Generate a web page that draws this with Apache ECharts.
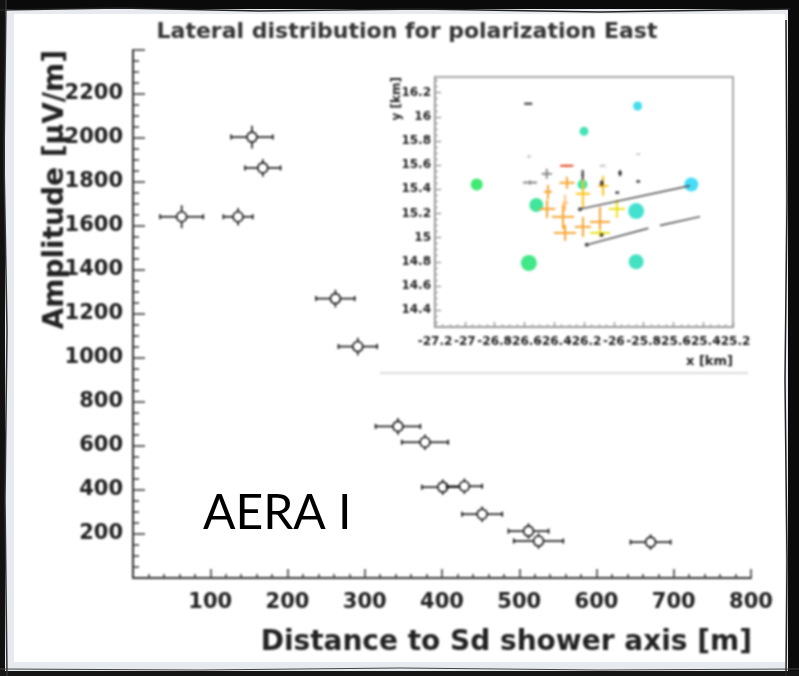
<!DOCTYPE html>
<html>
<head>
<meta charset="utf-8">
<script src="https://cdn.jsdelivr.net/npm/echarts@6/dist/echarts.min.js"></script>
<style>
  html, body { margin: 0; padding: 0; background: #fff; }
  #wrap { position: relative; width: 799px; height: 676px; overflow: hidden; }
  #plot, #frame { position: absolute; left: 0; top: 0; width: 799px; height: 676px; }
  #plot { filter: blur(1.2px); }
</style>
</head>
<body>
<div id="wrap"><div id="plot"></div><div id="frame"></div></div>
<script>
// ---- Lateral distribution (main panel) ----
const distance     = [63, 136, 154, 168, 262, 291, 343, 378, 401, 429, 452, 512, 525, 670];
const amplitude    = [1642, 1642, 2004, 1864, 1270, 1052, 689, 617, 413, 417, 290, 213, 168, 163];
const distanceErr  = [28, 19, 27, 23, 25, 25, 29, 30, 27, 23, 26, 26, 32, 26];
const amplitudeErr = [52, 40, 52, 40, 40, 40, 38, 35, 35, 35, 35, 35, 35, 35];

// ---- Array footprint (inset panel), coordinates in km ----
const stationX      = [-26.92, -26.52, -26.57, -26.20, -26.21, -25.84, -25.85, -25.85, -25.48];
const stationY      = [15.44, 15.27, 14.79, 15.88, 15.44, 16.09, 15.22, 14.80, 15.44];
const stationSignal = [12, 14, 16, 9, 10, 9, 16, 15, 14];
const stationTime   = [0.0, 0.3, 0.15, 0.5, 0.4, 0.9, 0.7, 0.6, 1.0];

// SD detector crosses: position, extent and kind
const markX    = [-26.314, -26.442, -26.448, -26.327, -26.341, -26.327, -26.207, -26.207, -26.072, -26.093, -26.093, -25.979,
                  -26.574, -26.569, -26.450, -26.562, -26.209, -26.075, -25.958, -25.836, -25.836, -25.977, -26.081, -26.316];
const markY    = [15.454, 15.379, 15.238, 15.288, 15.172, 15.039, 15.363, 15.089, 15.429, 15.130, 15.039, 15.238,
                  16.109, 15.672, 15.528, 15.456, 15.520, 15.595, 15.534, 15.692, 15.465, 15.373, 15.451, 15.595];
const markErrX = [0.050, 0.027, 0.054, 0.020, 0.074, 0.074, 0.047, 0.054, 0.034, 0.067, 0.067, 0.054,
                  0.027, 0.013, 0.034, 0.047, 0.007, 0.020, 0.013, 0.013, 0.013, 0.013, 0.013, 0.044];
const markErrY = [0.050, 0.058, 0.075, 0.066, 0.100, 0.066, 0.120, 0.083, 0.083, 0.124, 0.033, 0.075,
                  0.004, 0.008, 0.041, 0.017, 0.040, 0.008, 0.025, 0.008, 0.008, 0.008, 0.025, 0.008];
const markKind = [0, 0, 0, 1, 0, 0, 2, 0, 2, 0, 3, 3,
                  5, 6, 4, 4, 5, 6, 5, 6, 5, 5, 5, 7];

// Shower axis projections (segments) and their anchor dots
const segX1 = [-26.227, -26.182, -25.690];
const segY1 = [15.236, 14.940, 15.100];
const segX2 = [-25.489, -25.768, -25.421];
const segY2 = [15.429, 15.078, 15.174];
const dotX  = [-26.227, -26.182, -26.081];
const dotY  = [15.236, 14.940, 15.022];

const insetXTicks = [-27.2, -27.0, -26.8, -26.6, -26.4, -26.2, -26.0, -25.8, -25.6, -25.4, -25.2];
const insetYTicks = [14.4, 14.6, 14.8, 15.0, 15.2, 15.4, 15.6, 15.8, 16.0, 16.2];

// ---- styling helpers ----
const kindColors = ['#f7a531', '#ffc27a', '#ffc21a', '#ece21c', '#8a8a8a', '#333333', '#c8c8c8', '#e8461e'];
function timeColor(t) {
  const a = [16, 228, 80], b = [24, 212, 246];
  const c = a.map((v, i) => Math.round(v + (b[i] - v) * t));
  return 'rgb(' + c.join(',') + ')';
}
const labelFont = { fontFamily: 'DejaVu Sans', fontWeight: 'bold', color: '#222' };
const plain = v => String(+(+v).toFixed(1));

const mainData = distance.map((d, i) => [d, amplitude[i], distanceErr[i], amplitudeErr[i]]);
const markData = markX.map((x, i) => [x, markY[i], markErrX[i], markErrY[i], markKind[i]]);
const segData = segX1.map((x, i) => [x, segY1[i], segX2[i], segY2[i]]);
const stationData = stationX.map((x, i) => ({
  value: [x, stationY[i]],
  symbolSize: stationSignal[i],
  itemStyle: { color: timeColor(stationTime[i]) }
}));
const insetMinor = [];
for (let v = 14.3; v < 16.33; v += 0.05) insetMinor.push(+v.toFixed(2));

function renderErrorPoint(params, api) {
  const x = api.value(0), y = api.value(1), ex = api.value(2), ey = api.value(3);
  const c = api.coord([x, y]);
  const l = api.coord([x - ex, y]), r = api.coord([x + ex, y]);
  const t = api.coord([x, y + ey]), b = api.coord([x, y - ey]);
  const rad = 5;
  const st = { stroke: '#111', lineWidth: 1.6 };
  return {
    type: 'group',
    children: [
      { type: 'line', shape: { x1: l[0], y1: c[1], x2: c[0] - rad, y2: c[1] }, style: st },
      { type: 'line', shape: { x1: c[0] + rad, y1: c[1], x2: r[0], y2: c[1] }, style: st },
      { type: 'line', shape: { x1: c[0], y1: t[1], x2: c[0], y2: c[1] - rad }, style: st },
      { type: 'line', shape: { x1: c[0], y1: c[1] + rad, x2: c[0], y2: b[1] }, style: st },
      { type: 'line', shape: { x1: l[0], y1: c[1] - 2.5, x2: l[0], y2: c[1] + 2.5 }, style: st },
      { type: 'line', shape: { x1: r[0], y1: c[1] - 2.5, x2: r[0], y2: c[1] + 2.5 }, style: st },
      { type: 'circle', shape: { cx: c[0], cy: c[1], r: rad }, style: { stroke: '#111', lineWidth: 1.6, fill: '#fff' } }
    ]
  };
}

function renderCross(params, api) {
  const x = api.value(0), y = api.value(1), ex = api.value(2), ey = api.value(3), k = api.value(4);
  const l = api.coord([x - ex, y]), r = api.coord([x + ex, y]);
  const t = api.coord([x, y + ey]), b = api.coord([x, y - ey]);
  const st = { stroke: kindColors[k], lineWidth: 2 };
  return {
    type: 'group',
    children: [
      { type: 'line', shape: { x1: l[0], y1: l[1], x2: r[0], y2: r[1] }, style: st },
      { type: 'line', shape: { x1: t[0], y1: t[1], x2: b[0], y2: b[1] }, style: st }
    ]
  };
}

function renderSegment(params, api) {
  const p1 = api.coord([api.value(0), api.value(1)]);
  const p2 = api.coord([api.value(2), api.value(3)]);
  return { type: 'line', shape: { x1: p1[0], y1: p1[1], x2: p2[0], y2: p2[1] }, style: { stroke: '#444', lineWidth: 1.5 } };
}

// label-only axes for the inset, so every crowded label stays visible
function insetLabelAxis(values) {
  return {
    type: 'value', gridIndex: 1, position: 'bottom', min: -27.2, max: -25.2, z: 6,
    axisLine: { show: false }, axisTick: { show: false }, splitLine: { show: false },
    axisLabel: Object.assign({ fontSize: 12, margin: 9, customValues: values, hideOverlap: false,
      showMinLabel: true, showMaxLabel: true, formatter: plain }, labelFont)
  };
}

const plot = echarts.init(document.getElementById('plot'), null, { renderer: 'canvas' });
plot.setOption({
  backgroundColor: '#fff',
  animation: false,
  grid: [
    { left: 133, right: 48, top: 50, bottom: 98 },
    { left: 435, top: 77, width: 298, height: 250, show: true, borderColor: '#a8a8a8', borderWidth: 2, backgroundColor: '#fff', z: 5 }
  ],
  xAxis: [
    {
      type: 'value', gridIndex: 0, min: 0, max: 800, interval: 100,
      axisLine: { lineStyle: { color: '#333', width: 2 } },
      axisTick: { inside: true, length: 9, lineStyle: { color: '#333', width: 1.5 } },
      minorTick: { show: true, splitNumber: 5, length: 4, lineStyle: { color: '#333', width: 1.5 } },
      splitLine: { show: false },
      axisLabel: Object.assign({ fontSize: 21, margin: 14, showMinLabel: false, formatter: plain }, labelFont)
    },
    {
      type: 'value', gridIndex: 1, position: 'bottom', min: -27.2, max: -25.2, interval: 0.2, z: 6,
      axisLine: { lineStyle: { color: '#999', width: 2 } },
      axisTick: { inside: true, length: 5, lineStyle: { color: '#888', width: 1.2 } },
      minorTick: { show: true, splitNumber: 4, length: 3, lineStyle: { color: '#999', width: 1 } },
      splitLine: { show: false },
      axisLabel: { show: false }
    },
    insetLabelAxis(insetXTicks.filter((v, i) => i % 2 === 0)),
    insetLabelAxis(insetXTicks.filter((v, i) => i % 2 === 1))
  ],
  yAxis: [
    {
      type: 'value', gridIndex: 0, min: 0, max: 2400, interval: 200,
      axisLine: { lineStyle: { color: '#333', width: 2 } },
      axisTick: { inside: true, length: 12, lineStyle: { color: '#333', width: 1.5 } },
      minorTick: { show: true, splitNumber: 4, length: 6, lineStyle: { color: '#333', width: 1.5 } },
      splitLine: { show: false },
      axisLabel: Object.assign({ fontSize: 21, margin: 10, showMinLabel: false, showMaxLabel: false, formatter: plain }, labelFont)
    },
    {
      type: 'value', gridIndex: 1, min: 14.26, max: 16.33, z: 6,
      axisLine: { lineStyle: { color: '#999', width: 2 } },
      axisTick: { inside: true, length: 6, customValues: insetYTicks, lineStyle: { color: '#888', width: 1.2 } },
      splitLine: { show: false },
      axisLabel: Object.assign({ fontSize: 12, margin: 4, customValues: insetYTicks, formatter: plain }, labelFont)
    },
    {
      type: 'value', gridIndex: 1, position: 'left', min: 14.26, max: 16.33, z: 6,
      axisLine: { show: false },
      axisTick: { inside: true, length: 3, customValues: insetMinor, lineStyle: { color: '#999', width: 1 } },
      splitLine: { show: false },
      axisLabel: { show: false }
    }
  ],
  graphic: [
    { type: 'text', x: 407, y: 32, style: { text: 'Lateral distribution for polarization East', font: 'bold 22px "DejaVu Sans"', fill: '#333', align: 'center', verticalAlign: 'middle' } },
    { type: 'text', x: 752, y: 643, style: { text: 'Distance to Sd shower axis [m]', font: 'bold 28px "DejaVu Sans"', fill: '#222', align: 'right', verticalAlign: 'middle' } },
    { type: 'text', x: 56, y: 50, rotation: Math.PI / 2, style: { text: 'Amplitude [µV/m]', font: 'bold 28px "DejaVu Sans"', fill: '#222', align: 'right', verticalAlign: 'middle' } },
    { type: 'text', x: 397, y: 77, rotation: Math.PI / 2, z: 10, style: { text: 'y [km]', font: 'bold 12px "DejaVu Sans"', fill: '#222', align: 'right', verticalAlign: 'middle' } },
    { type: 'text', x: 733, y: 362, z: 10, style: { text: 'x [km]', font: 'bold 13px "DejaVu Sans"', fill: '#222', align: 'right', verticalAlign: 'middle' } },
    { type: 'line', z: 1, shape: { x1: 380, y1: 373, x2: 748, y2: 373 }, style: { stroke: '#dcdcdc', lineWidth: 2 } }
  ],
  series: [
    {
      type: 'custom', xAxisIndex: 0, yAxisIndex: 0,
      renderItem: renderErrorPoint, data: mainData
    },
    {
      type: 'scatter', xAxisIndex: 1, yAxisIndex: 1, z: 7,
      symbol: 'circle', data: stationData
    },
    {
      type: 'custom', xAxisIndex: 1, yAxisIndex: 1, z: 8,
      renderItem: renderCross, data: markData
    },
    {
      type: 'custom', xAxisIndex: 1, yAxisIndex: 1, z: 9,
      renderItem: renderSegment, data: segData
    },
    {
      type: 'scatter', xAxisIndex: 1, yAxisIndex: 1, z: 9,
      symbol: 'circle', symbolSize: 4, itemStyle: { color: '#222' },
      data: dotX.map((x, i) => [x, dotY[i]])
    }
  ]
});

// ---- sketched photo frame and panel label ----
const frame = echarts.init(document.getElementById('frame'), null, { renderer: 'canvas' });
const W = 799, H = 676;
frame.setOption({
  backgroundColor: 'transparent',
  animation: false,
  graphic: [
    { type: 'rect', shape: { x: 0, y: 0, width: W, height: H }, style: { fill: null, stroke: '#e7eaee', lineWidth: 28 } },
    { type: 'rect', shape: { x: 0, y: 0, width: W, height: 9 }, style: { fill: '#0a0a0a' } },
    { type: 'rect', shape: { x: 0, y: 0, width: 5, height: H }, style: { fill: '#111' } },
    { type: 'rect', shape: { x: 788, y: 0, width: 11, height: H }, style: { fill: '#0a0a0a' } },
    { type: 'rect', shape: { x: 0, y: 671, width: W, height: 5 }, style: { fill: '#151515' } },
    { type: 'polyline', shape: { points: [[0, 10], [120, 8], [260, 11], [420, 9], [600, 12], [790, 9]] }, style: { stroke: '#222', lineWidth: 1.5, fill: null } },
    { type: 'polyline', shape: { points: [[6, 0], [4, 160], [7, 330], [5, 500], [7, 676]] }, style: { stroke: '#333', lineWidth: 1.5, fill: null } },
    { type: 'polyline', shape: { points: [[786, 20], [787, 200], [785, 380], [787, 560], [786, 676]] }, style: { stroke: '#222', lineWidth: 1.5, fill: null } },
    { type: 'polyline', shape: { points: [[0, 669], [200, 670], [400, 668], [600, 670], [799, 669]] }, style: { stroke: '#444', lineWidth: 1.2, fill: null } },
    { type: 'text', x: 203, y: 514, style: { text: 'AERA I', font: '48px Lato', fill: '#000', align: 'left', verticalAlign: 'middle' } }
  ]
});
</script>
</body>
</html>
